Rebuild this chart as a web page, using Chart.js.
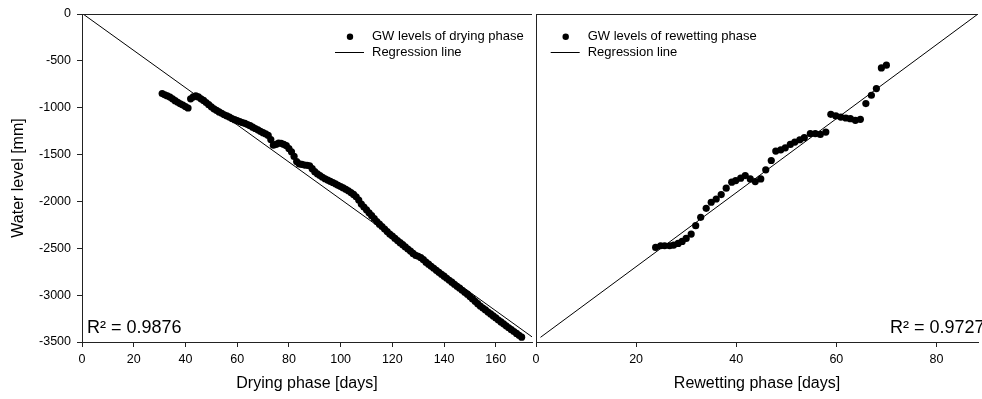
<!DOCTYPE html>
<html>
<head>
<meta charset="utf-8">
<script src="https://cdn.jsdelivr.net/npm/chart.js@4.4.0/dist/chart.umd.min.js"></script>
<style>
    html, body { margin: 0; padding: 0; background: #fff; }
    #wrap { position: relative; width: 982px; height: 399px; overflow: hidden; }
    #dry { position: absolute; left: 0; top: 0; }
    #wet { position: absolute; left: 500px; top: 0; }
</style>
</head>
<body>
<div id="wrap">
    <canvas id="dry" width="536" height="399"></canvas>
    <canvas id="wet" width="482" height="399"></canvas>
</div>
<script>
// Drying phase (days since start, GW level in mm)
const dryDays = [
    31, 32, 33, 34, 35, 36, 37, 38, 39, 40,
    41, 42, 43, 44, 45, 46, 47, 48, 49, 50,
    51, 52, 53, 54, 55, 56, 57, 58, 59, 60,
    61, 62, 63, 64, 65, 66, 67, 68, 69, 70,
    71, 72, 73, 74, 75, 76, 77, 78, 79, 80,
    81, 82, 83, 84, 85, 86, 87, 88, 89, 90,
    91, 92, 93, 94, 95, 96, 97, 98, 99, 100,
    101, 102, 103, 104, 105, 106, 107, 108, 109, 110,
    111, 112, 113, 114, 115, 116, 117, 118, 119, 120,
    121, 122, 123, 124, 125, 126, 127, 128, 129, 130,
    131, 132, 133, 134, 135, 136, 137, 138, 139, 140,
    141, 142, 143, 144, 145, 146, 147, 148, 149, 150,
    151, 152, 153, 154, 155, 156, 157, 158, 159, 160,
    161, 162, 163, 164, 165, 166, 167, 168, 169, 170
];
const dryLevel = [
    -849, -862, -874, -887, -905, -925, -943, -958, -972, -988,
    -1003, -905, -885, -874, -885, -905, -922, -945, -968, -990,
    -1012, -1028, -1045, -1060, -1075, -1088, -1100, -1115, -1128, -1138,
    -1148, -1158, -1168, -1180, -1192, -1208, -1222, -1236, -1252, -1266,
    -1280, -1296, -1340, -1400, -1392, -1378, -1380, -1392, -1405, -1435,
    -1470, -1520, -1575, -1600, -1605, -1612, -1615, -1620, -1650, -1682,
    -1705, -1724, -1742, -1758, -1772, -1785, -1798, -1812, -1828, -1842,
    -1856, -1870, -1886, -1905, -1925, -1950, -1985, -2028, -2060, -2090,
    -2122, -2152, -2183, -2215, -2243, -2268, -2295, -2322, -2348, -2370,
    -2395, -2418, -2440, -2462, -2485, -2508, -2530, -2555, -2575, -2585,
    -2600, -2622, -2648, -2670, -2692, -2713, -2735, -2756, -2777, -2798,
    -2820, -2841, -2862, -2884, -2905, -2926, -2948, -2969, -2990, -3015,
    -3040, -3066, -3091, -3116, -3138, -3158, -3180, -3200, -3222, -3243,
    -3265, -3286, -3306, -3327, -3348, -3368, -3388, -3408, -3428, -3448
];

// Rewetting phase
const wetDays = [
    23.9, 24.9, 25.7, 26.7, 27.5, 28.4, 29.2, 30.0, 31.0, 31.9,
    32.9, 34.0, 35.0, 36.0, 37.0, 38.0, 39.1, 39.9, 40.9, 41.8,
    42.8, 43.8, 44.9, 45.9, 47.0, 47.9, 48.9, 49.8, 50.8, 51.7,
    52.7, 53.6, 54.8, 55.8, 56.8, 57.9, 58.9, 59.9, 60.9, 61.9,
    62.8, 63.8, 64.8, 65.9, 67.0, 68.0, 69.0, 70.0
];
const wetLevel = [
    -2491, -2473, -2473, -2473, -2466, -2448, -2427, -2395, -2348, -2259,
    -2170, -2074, -2009, -1974, -1927, -1859, -1795, -1777, -1752, -1724,
    -1760, -1788, -1760, -1663, -1563, -1463, -1449, -1428, -1392, -1367,
    -1342, -1320, -1277, -1277, -1285, -1260, -1071, -1088, -1100, -1110,
    -1117, -1135, -1124, -956, -867, -796, -575, -546
];

// Regression line end points
const dryRegX = [0.4, 174];
const dryRegY = [0, -3445];
const wetRegX = [0.9, 88.3];
const wetRegY = [-3450, 0];

// Axis ticks
const dryTicksX = [0, 20, 40, 60, 80, 100, 120, 140, 160];
const wetTicksX = [0, 20, 40, 60, 80];
const levelTicks = [-3500, -3000, -2500, -2000, -1500, -1000, -500, 0];

const FONT = '"Liberation Sans", Arial, sans-serif';
const AXIS = '#222';

const toPoints = (xs, ys) => xs.map((x, i) => ({ x: x, y: ys[i] }));

// Top frame line, legend and R² labels
const framePlugin = {
    id: 'frame',
    afterDraw(chart, args, opts) {
        const { ctx, chartArea: a } = chart;
        ctx.save();
        ctx.strokeStyle = AXIS;
        ctx.lineWidth = 1;
        ctx.beginPath();
        ctx.moveTo(a.left, a.top + 0.5);
        ctx.lineTo(a.right, a.top + 0.5);
        ctx.stroke();

        const lx = opts.legendX;
        const sets = chart.data.datasets;
        ctx.fillStyle = '#000';
        ctx.strokeStyle = '#000';
        ctx.beginPath();
        ctx.arc(lx - 22, a.top + 22.7, 3.2, 0, Math.PI * 2);
        ctx.fill();
        ctx.beginPath();
        ctx.moveTo(lx - 37, a.top + 38.5);
        ctx.lineTo(lx - 8, a.top + 38.5);
        ctx.stroke();
        ctx.font = '13px ' + FONT;
        ctx.textBaseline = 'middle';
        ctx.fillText(sets[0].label, lx, a.top + 22.7);
        ctx.fillText(sets[1].label, lx, a.top + 38.3);

        ctx.font = '18px ' + FONT;
        ctx.fillText(opts.r2, opts.r2X, 328);
        ctx.restore();
    }
};

const xAxis = (max, ticks, title) => ({
    type: 'linear',
    min: 0,
    max: max,
    afterBuildTicks: s => { s.ticks = ticks.map(v => ({ value: v })); },
    ticks: { padding: 5, color: '#000', font: { family: FONT, size: 12.5 }, maxRotation: 0, autoSkip: false },
    grid: { drawOnChartArea: false, drawTicks: true, tickLength: 5, color: AXIS },
    border: { display: true, color: AXIS, width: 1 },
    title: { display: true, text: title, color: '#000', font: { family: FONT, size: 16 }, padding: { top: 4, bottom: 6 } },
    afterFit: s => { s.height = 57; }
});

const makeChart = (id, cfg) => new Chart(document.getElementById(id), {
    type: 'scatter',
    data: {
        datasets: [
            {
                label: cfg.pointLabel,
                data: toPoints(cfg.days, cfg.level),
                backgroundColor: '#000',
                borderColor: '#000',
                pointRadius: 3.6,
                pointBorderWidth: 0
            },
            {
                label: 'Regression line',
                data: toPoints(cfg.regX, cfg.regY),
                showLine: true,
                borderColor: '#000',
                borderWidth: 1,
                pointRadius: 0
            }
        ]
    },
    options: {
        responsive: false,
        animation: false,
        layout: { padding: cfg.padding },
        plugins: {
            legend: { display: false },
            tooltip: { enabled: false },
            frame: { legendX: cfg.legendX, r2: cfg.r2, r2X: cfg.r2X }
        },
        scales: {
            x: xAxis(cfg.maxX, cfg.ticksX, cfg.xTitle),
            y: cfg.yAxis
        }
    },
    plugins: [framePlugin]
});

makeChart('dry', {
    days: dryDays, level: dryLevel, regX: dryRegX, regY: dryRegY,
    pointLabel: 'GW levels of drying phase',
    maxX: 174, ticksX: dryTicksX, xTitle: 'Drying phase [days]',
    legendX: 372, r2: 'R² = 0.9876', r2X: 87,
    padding: { left: 9, top: 14, right: 0, bottom: 0 },
    yAxis: {
        min: -3500, max: 0,
        afterBuildTicks: s => { s.ticks = levelTicks.map(v => ({ value: v })); },
        ticks: { padding: 6, color: '#000', font: { family: FONT, size: 12.5 }, callback: v => String(v) },
        grid: { drawOnChartArea: false, drawTicks: true, tickLength: 5, color: AXIS },
        border: { display: true, color: AXIS, width: 1 },
        title: { display: true, text: 'Water level [mm]', color: '#000', font: { family: FONT, size: 16 }, padding: { top: 0, bottom: 0 } },
        afterFit: s => { s.width = 73; }
    }
});

makeChart('wet', {
    days: wetDays, level: wetLevel, regX: wetRegX, regY: wetRegY,
    pointLabel: 'GW levels of rewetting phase',
    maxX: 88.3, ticksX: wetTicksX, xTitle: 'Rewetting phase [days]',
    legendX: 87.7, r2: 'R² = 0.9727', r2X: 390,
    padding: { left: 0, top: 14, right: 0, bottom: 0 },
    yAxis: {
        min: -3500, max: 0,
        ticks: { display: false },
        grid: { drawOnChartArea: false, drawTicks: false, color: AXIS },
        border: { display: true, color: AXIS, width: 1 },
        afterFit: s => { s.width = 36; }
    }
});
</script>
</body>
</html>
